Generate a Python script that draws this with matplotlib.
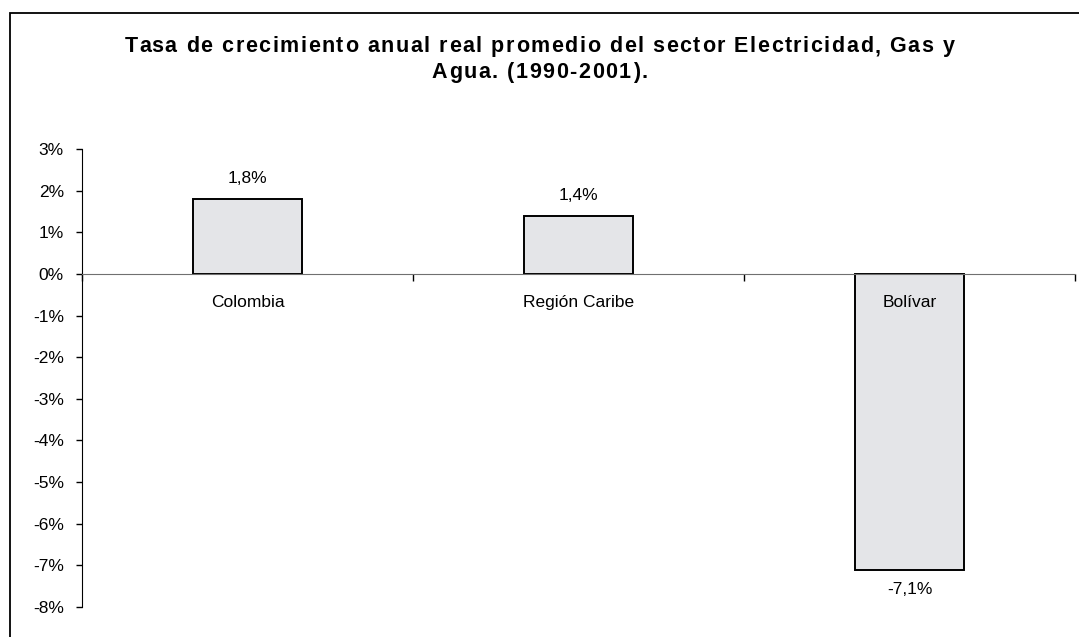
# Tasa de crecimiento anual - sector Electricidad, Gas y Agua
import matplotlib.pyplot as plt
from matplotlib.patches import Rectangle

plt.rcParams['font.family'] = ['Liberation Sans', 'DejaVu Sans']

# data
regiones = ["Colombia", "Región Caribe", "Bolívar"]
tasas = [1.8, 1.4, -7.1]
etiquetas = ["1,8%", "1,4%", "-7,1%"]
yticks = [3, 2, 1, 0, -1, -2, -3, -4, -5, -6, -7, -8]
titulo = ["Tasa de crecimiento anual real promedio del sector Electricidad, Gas y",
          "Agua. (1990-2001)."]

W, H = 1079, 637
fig = plt.figure(figsize=(W / 100, H / 100), dpi=100)
fig.patch.set_facecolor('white')

# outer frame (only left and top edges visible)
fig.patches.append(Rectangle((9.5 / W, -0.1), 1.2, 1.1 - 13 / H,
                             transform=fig.transFigure, fill=False,
                             edgecolor='black', linewidth=1.3))

ax = fig.add_axes([82 / W, 30 / H, 993 / W, 458 / H])

pos = [0.5, 1.5, 2.5]
ax.bar(pos, tasas, width=0.33, color='#e4e5e8', edgecolor='black',
       linewidth=1.4, zorder=2)

ax.set_xlim(0, 3)
ax.set_ylim(-8, 3)

# y axis
ax.set_yticks(yticks)
ax.set_yticklabels([f"{t}%" for t in yticks], fontsize=12.5)
ax.tick_params(axis='y', direction='out', length=4, width=1, pad=9)

# x axis at zero
ax.spines['bottom'].set_position(('data', 0))
ax.spines['bottom'].set_color('#707070')
ax.spines['top'].set_visible(False)
ax.spines['right'].set_visible(False)
ax.set_xticks([0, 1, 2, 3])
ax.set_xticklabels([])
ax.tick_params(axis='x', direction='out', length=5, width=1, color='black')

# category labels just below the zero line
for x, nombre in zip(pos, regiones):
    ax.annotate(nombre, (x, 0), xytext=(0, -15), textcoords='offset points',
                ha='center', va='top', fontsize=12.5, zorder=3)

# value labels
for x, v, lab in zip(pos, tasas, etiquetas):
    if v >= 0:
        ax.annotate(lab, (x, v), xytext=(0, 9), textcoords='offset points',
                    ha='center', va='bottom', fontsize=12.5)
    else:
        ax.annotate(lab, (x, v), xytext=(0, -9), textcoords='offset points',
                    ha='center', va='top', fontsize=12.5)

# title with slightly wide letter spacing (as in the original)
renderer = fig.canvas.get_renderer()
tsize = 15.5


def ancho(s):
    t = fig.text(0, 0, s + "|", fontsize=tsize, fontweight='bold')
    w = t.get_window_extent(renderer).width
    t.remove()
    return w


w_bar = ancho("")
w1 = ancho(titulo[0]) - w_bar
track = max(0, (830 - w1) / (len(titulo[0]) - 1))

for linea, yc in zip(titulo, [44, 70]):
    total = ancho(linea) - w_bar + track * (len(linea) - 1)
    x0 = W / 2 - total / 2
    for i, ch in enumerate(linea):
        if ch == " ":
            continue
        xi = x0 + ancho(linea[:i]) - w_bar + track * i
        fig.text(xi / W, 1 - yc / H, ch, fontsize=tsize, fontweight='bold',
                 ha='left', va='center_baseline')

fig.savefig("out.png", dpi=100)
